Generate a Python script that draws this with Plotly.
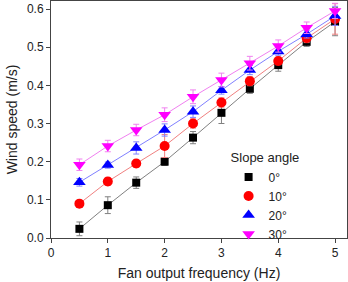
import plotly.graph_objects as go

freq = [0.5, 1, 1.5, 2, 2.5, 3, 3.5, 4, 4.5, 5]
names = ["0°", "10°", "20°", "30°"]
v0 = [0.024, 0.086, 0.145, 0.200, 0.263, 0.328, 0.391, 0.453, 0.514, 0.567]
e0 = [0.018, 0.022, 0.015, 0.010, 0.016, 0.028, 0.012, 0.016, 0.012, 0.037]
v10 = [0.090, 0.148, 0.195, 0.241, 0.300, 0.355, 0.411, 0.464, 0.524, 0.574]
e10 = [0.008, 0.010, 0.010, 0.030, 0.012, 0.012, 0.012, 0.010, 0.012, 0.040]
v20 = [0.146, 0.191, 0.236, 0.283, 0.331, 0.387, 0.440, 0.489, 0.534, 0.582]
e20 = [0.010, 0.008, 0.016, 0.016, 0.015, 0.010, 0.012, 0.010, 0.010, 0.025]
v30 = [0.192, 0.241, 0.283, 0.323, 0.370, 0.414, 0.458, 0.503, 0.551, 0.595]
e30 = [0.015, 0.015, 0.015, 0.018, 0.018, 0.018, 0.018, 0.016, 0.015, 0.020]

series = [
    (names[0], v0, e0, "black", "#808080", "square", 8),
    (names[1], v10, e10, "red", "#f08080", "circle", 10),
    (names[2], v20, e20, "blue", "#8080ff", "triangle-up", 11),
    (names[3], v30, e30, "magenta", "#f080f0", "triangle-down", 11),
]

fig = go.Figure()
for name, v, e, col, lcol, sym, sz in series:
    fig.add_trace(go.Scatter(
        x=freq, y=v, mode="lines", line=dict(color=lcol, width=1),
        showlegend=False, hoverinfo="skip"))
for name, v, e, col, lcol, sym, sz in series:
    fig.add_trace(go.Scatter(
        x=freq, y=v, mode="markers", name=name,
        marker=dict(symbol=sym, size=sz, color=col, line=dict(width=0)),
        error_y=dict(type="data", array=e, color=lcol, thickness=1, width=3),
    ))

fig.update_layout(
    width=348, height=282,
    margin=dict(l=51, r=1, t=1, b=44),
    paper_bgcolor="white", plot_bgcolor="white",
    font=dict(family="Liberation Sans, Arial, sans-serif", size=12, color="#222"),
    legend=dict(
        title=dict(text="Slope angle", font=dict(size=13)),
        x=0.6, y=0.39, xanchor="left", yanchor="top",
        bgcolor="rgba(0,0,0,0)", font=dict(size=12),
        tracegroupgap=0,
    ),
    xaxis=dict(
        range=[0, 5.21], tickvals=[0, 1, 2, 3, 4, 5],
        showgrid=False, zeroline=False, showline=True, mirror=True,
        linecolor="#444", linewidth=1, ticks="outside", ticklen=4, tickcolor="#444",
        title=dict(text="Fan output frequency (Hz)", font=dict(size=14), standoff=8),
    ),
    yaxis=dict(
        range=[0, 0.621], tickvals=[0, 0.1, 0.2, 0.3, 0.4, 0.5, 0.6],
        tickformat=".1f",
        showgrid=False, zeroline=False, showline=True, mirror=True,
        linecolor="#444", linewidth=1, ticks="outside", ticklen=4, tickcolor="#444",
        title=dict(text="Wind speed (m/s)", font=dict(size=14), standoff=6),
    ),
)

fig.write_html("out.html", config={"displayModeBar": False},
               post_script="document.body.style.margin='0';")
